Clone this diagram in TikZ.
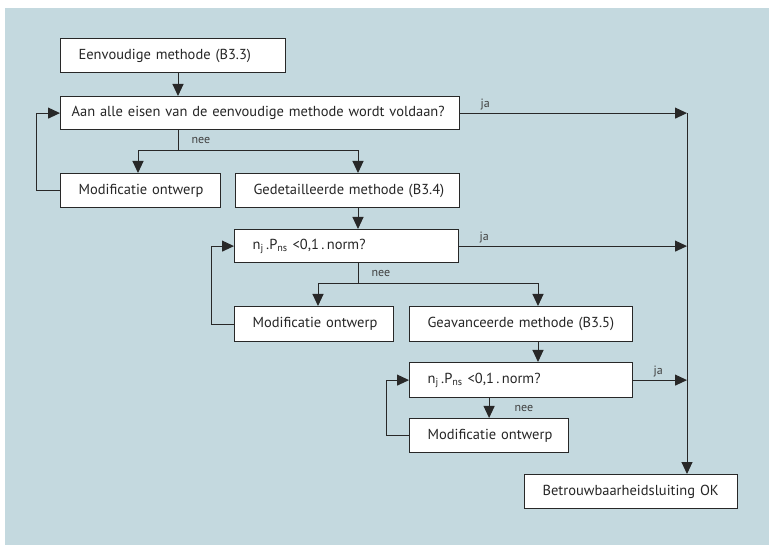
\documentclass[tikz,border=0pt]{standalone}
\usepackage{fontspec}
\setmainfont{PT Sans}
\usepackage{xcolor}
\usepackage{tikz}
\usetikzlibrary{arrows.meta}
\definecolor{achtergrond}{RGB}{196,217,223}
\definecolor{lijn}{RGB}{40,40,40}

\begin{document}
\begin{tikzpicture}[x=1pt,y=-1pt]
	\tikzstyle{blok}=[draw=lijn, line width=1.2pt, fill=white, anchor=north west, minimum height=34pt, inner xsep=18pt, inner ysep=0pt, align=left, text=black!85, font=\fontsize{14.5}{16}\selectfont]
	\tikzstyle{pijl}=[draw=lijn, line width=1pt, -{Triangle[length=12pt,width=11pt]}]
	\tikzstyle{lijntje}=[draw=lijn, line width=1pt]
	\tikzstyle{ja}=[anchor=south west, xshift=17pt, inner sep=3pt, text=black!75, font=\fontsize{12}{13}\selectfont]
	\tikzstyle{nee}=[anchor=west, xshift=10pt, inner sep=3pt, text=black!75, font=\fontsize{12}{13}\selectfont]

	\fill[achtergrond] (5,8) rectangle (769,545);
	\useasboundingbox (0,0) rectangle (769,545);

	\node[blok, text width=189pt] (eenv) at (60,38) {Eenvoudige methode (B3.3)};
	\node[blok, inner xsep=11pt, text width=377pt, minimum height=33pt] (vraag1) at (60,96) {\mbox{Aan alle eisen van de eenvoudige methode wordt voldaan?}};
	\node[blok, text width=124pt] (mod1) at (60,173) {\mbox{Modificatie ontwerp}};
	\node[blok, text width=188pt] (gedet) at (235,173) {\mbox{Gedetailleerde methode (B3.4)}};
	\node[blok, text width=188pt, minimum height=33pt] (vraag2) at (234,229) {n\textsubscript{j}\,.P\textsubscript{ns} <0,1\,.\,norm?};
	\node[blok, text width=123pt, minimum height=35pt] (mod2) at (234,306) {\mbox{Modificatie ontwerp}};
	\node[blok, text width=187pt, minimum height=35pt] (geav) at (409,306) {\mbox{Geavanceerde methode (B3.5)}};
	\node[blok, text width=187pt, minimum height=35pt] (vraag3) at (409,362) {n\textsubscript{j}\,.P\textsubscript{ns} <0,1\,.\,norm?};
	\node[blok, text width=123pt] (mod3) at (409,418) {\mbox{Modificatie ontwerp}};
	\node[blok, text width=177pt] (ok) at (524,474) {\mbox{Betrouwbaarheidsluiting OK}};

	\coordinate (split1) at (178,151);
	\coordinate (links1) at (138,151);
	\coordinate (rechts1) at (358,151);
	\coordinate (split2) at (358,284);
	\coordinate (links2) at (318,284);
	\coordinate (rechts2) at (538,284);
	\coordinate (rechts) at (687,0);

	\draw[pijl] (eenv.south -| split1) -- (vraag1.north -| split1);
	\draw[lijntje] (vraag1.south -| split1) -- node[nee] {nee} (split1);
	\draw[pijl] (split1) -| (mod1.north -| links1);
	\draw[pijl] (split1) -| (gedet.north -| rechts1);
	\draw[pijl] (mod1.west) -- ++(-24,0) |- (vraag1.west);

	\draw[pijl] (gedet.south -| rechts1) -- (vraag2.north -| rechts1);
	\draw[lijntje] (vraag2.south -| split2) -- node[nee] {nee} (split2);
	\draw[pijl] (split2) -| (mod2.north -| links2);
	\draw[pijl] (split2) -| (geav.north -| rechts2);
	\draw[pijl] (mod2.west) -- ++(-23,0) |- (vraag2.west);

	\draw[pijl] (geav.south -| rechts2) -- (vraag3.north -| rechts2);
	\draw[pijl] (vraag3.south -| mod3.north) -- node[nee, xshift=12pt] {nee} (mod3.north);
	\draw[pijl] (mod3.west) -- ++(-23,0) |- (vraag3.west);

	\draw[pijl] (vraag1.east) -- node[ja, at start] {ja} (vraag1.east -| rechts);
	\draw[pijl] (vraag2.east) -- node[ja, at start] {ja} (vraag2.east -| rechts);
	\draw[pijl] (vraag3.east) -- node[ja, at start] {ja} (vraag3.east -| rechts);
	\draw[pijl] (vraag1.east -| rechts) -- (ok.north -| rechts);
\end{tikzpicture}
\end{document}
